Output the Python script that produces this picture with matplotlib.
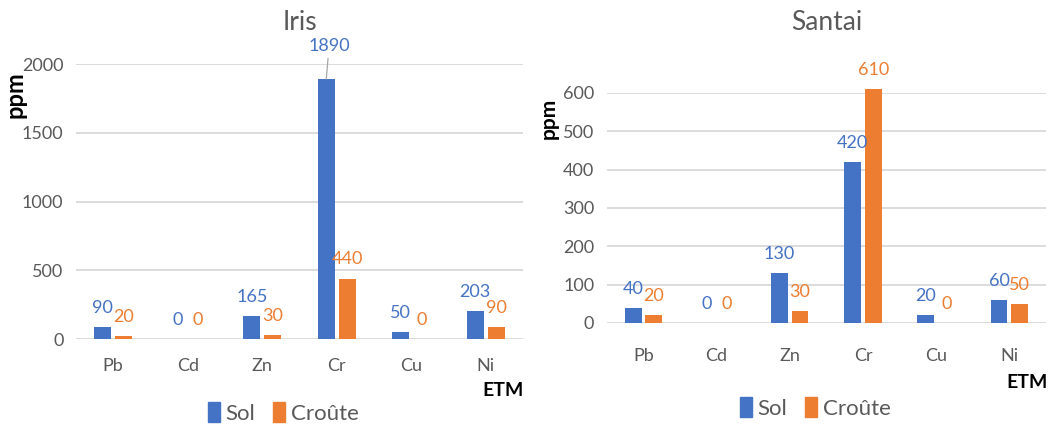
import matplotlib
matplotlib.use("Agg")
import matplotlib.pyplot as plt
import numpy as np
from matplotlib.patches import Patch

plt.rcParams['font.family'] = ['Lato', 'DejaVu Sans']

elements = ["Pb", "Cd", "Zn", "Cr", "Cu", "Ni"]
iris_sol = [90, 0, 165, 1890, 50, 203]
iris_croute = [20, 0, 30, 440, 0, 90]
santai_sol = [40, 0, 130, 420, 20, 60]
santai_croute = [20, 0, 30, 610, 0, 50]
iris_ticks = [0, 500, 1000, 1500, 2000]
santai_ticks = [0, 100, 200, 300, 400, 500, 600]

BLUE = "#4472C4"
ORANGE = "#ED7D31"
GRID = "#D9D9D9"
TXT = "#595959"
FS = 13

fig = plt.figure(figsize=(10.48, 4.26), dpi=100)


def draw_panel(rect, title, sol, croute, ticks, xpad, title_y, leader=None):
    ax = fig.add_axes(rect)
    x = np.arange(len(elements))
    w = 0.23
    off = 0.14
    ax.bar(x - off, sol, w, color=BLUE, zorder=3, clip_on=False)
    ax.bar(x + off, croute, w, color=ORANGE, zorder=3, clip_on=False)
    ax.set_xlim(-0.5, len(elements) - 0.5)
    ax.set_ylim(0, ticks[-1])
    ax.set_yticks(ticks)
    ax.yaxis.grid(True, color=GRID, lw=1.3, zorder=0)
    ax.set_axisbelow(True)
    for s in ax.spines.values():
        s.set_visible(False)
    ax.tick_params(axis='both', length=0, colors=TXT, labelsize=FS)
    ax.tick_params(axis='y', pad=9)
    ax.tick_params(axis='x', pad=xpad)
    ax.set_xticks(x)
    ax.set_xticklabels(elements)
    for i, (s, c) in enumerate(zip(sol, croute)):
        if leader is not None and i == leader[0]:
            ax.annotate(str(s), xy=(i - off, s), xytext=(2, leader[1]),
                        textcoords='offset points', ha='center', va='bottom',
                        color=BLUE, fontsize=FS, annotation_clip=False,
                        arrowprops=dict(arrowstyle='-', color='#A6A6A6', lw=0.9,
                                        shrinkA=1, shrinkB=0))
        else:
            ax.annotate(str(s), xy=(i - off, s), xytext=(0, 8),
                        textcoords='offset points', ha='center', va='bottom',
                        color=BLUE, fontsize=FS, annotation_clip=False)
        ax.annotate(str(c), xy=(i + off, c), xytext=(0, 8),
                    textcoords='offset points', ha='center', va='bottom',
                    color=ORANGE, fontsize=FS, annotation_clip=False)
    fig.text(rect[0] + rect[2] / 2, title_y, title, ha='center', va='center',
             color=TXT, fontsize=19)
    return ax


draw_panel([0.0725, 0.2042, 0.4265, 0.6455], "Iris", iris_sol, iris_croute,
           iris_ticks, 14, 1 - 22 / 426, leader=(3, 18))
draw_panel([0.579, 0.2418, 0.419, 0.54], "Santai", santai_sol, santai_croute,
           santai_ticks, 18, 1 - 23 / 426)

# axis titles
fig.text(15 / 1048, 1 - 95 / 426, "ppm", rotation=90, ha='center', va='center',
         fontsize=17, fontweight='bold', color='black')
fig.text(549 / 1048, 1 - 118 / 426, "ppm", rotation=90, ha='center', va='center',
         fontsize=15, fontweight='bold', color='black')
fig.text(503 / 1048, 1 - 390 / 426, "ETM", ha='center', va='center',
         fontsize=14, fontweight='bold', color='black')
fig.text(1027 / 1048, 1 - 382 / 426, "ETM", ha='center', va='center',
         fontsize=14, fontweight='bold', color='black')

handles = [Patch(color=BLUE, label="Sol"), Patch(color=ORANGE, label="Croûte")]
for cx, cy in [(283, 413), (815, 408)]:
    fig.legend(handles=handles, loc='center', bbox_to_anchor=(cx / 1048, 1 - cy / 426),
               ncol=2, frameon=False, fontsize=16, labelcolor=TXT,
               handlelength=0.55, handleheight=1.0, handletextpad=0.25,
               columnspacing=0.8)

fig.savefig("out.png", dpi=100)
